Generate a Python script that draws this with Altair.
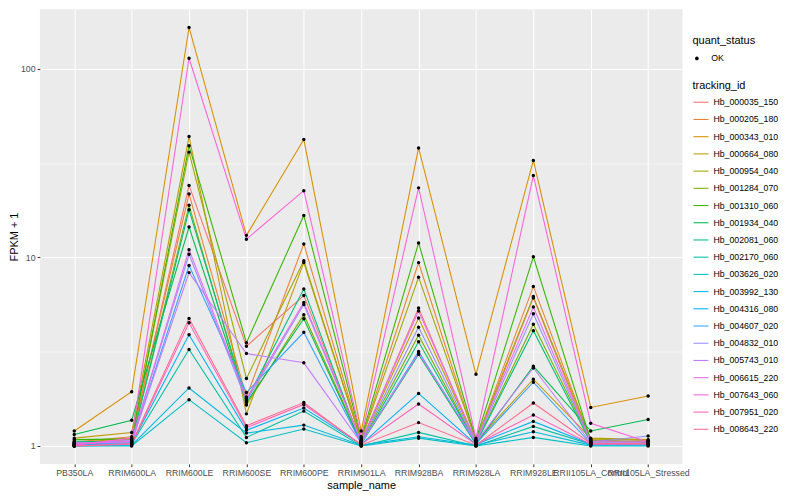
import altair as alt
import pandas as pd

samples = ["PB350LA", "RRIM600LA", "RRIM600LE", "RRIM600SE", "RRIM600PE", "RRIM901LA",
           "RRIM928BA", "RRIM928LA", "RRIM928LE", "RRII105LA_Control", "RRII105LA_Stressed"]

tracking_ids = ["Hb_000035_150", "Hb_000205_180", "Hb_000343_010", "Hb_000664_080", "Hb_000954_040",
                "Hb_001284_070", "Hb_001310_060", "Hb_001934_040", "Hb_002081_060", "Hb_002170_060",
                "Hb_003626_020", "Hb_003992_130", "Hb_004316_080", "Hb_004607_020", "Hb_004832_010",
                "Hb_005743_010", "Hb_006615_220", "Hb_007643_060", "Hb_007951_020", "Hb_008643_220"]

colors = ["#F8766D", "#EA8331", "#D89000", "#C09B00", "#A3A500", "#7CAE00", "#39B600", "#00BB4E",
          "#00BF7D", "#00C1A3", "#00BFC4", "#00BAE0", "#00B0F6", "#35A2FF", "#9590FF", "#C77CFF",
          "#E76BF3", "#FA62DB", "#FF62BC", "#FF6C91"]

# FPKM + 1 per sample (order of `samples`)
Hb_000035_150 = [1.03, 1.08, 24.1, 3.38, 6.28, 1.05, 5.39, 1.04, 6.10, 1.05, 1.05]
Hb_000205_180 = [1.05, 1.12, 21.7, 1.82, 11.8, 1.08, 9.39, 1.06, 7.02, 1.08, 1.04]
Hb_000343_010 = [1.20, 1.94, 166.0, 13.1, 42.2, 1.20, 38.1, 2.40, 32.7, 1.60, 1.84]
Hb_000664_080 = [1.10, 1.18, 43.8, 1.48, 9.40, 1.06, 4.77, 1.05, 2.26, 1.10, 1.08]
Hb_000954_040 = [1.04, 1.10, 36.2, 2.28, 9.60, 1.07, 7.85, 1.07, 6.20, 1.09, 1.07]
Hb_001284_070 = [1.02, 1.06, 18.9, 1.65, 4.97, 1.04, 3.87, 1.03, 4.42, 1.06, 1.06]
Hb_001310_060 = [1.08, 1.09, 39.1, 3.53, 16.7, 1.10, 11.94, 1.08, 10.08, 1.07, 1.05]
Hb_001934_040 = [1.15, 1.37, 14.5, 1.70, 4.73, 1.03, 3.06, 1.02, 2.65, 1.20, 1.38]
Hb_002081_060 = [1.06, 1.05, 17.9, 1.75, 6.80, 1.02, 3.57, 1.03, 4.09, 1.04, 1.03]
Hb_002170_060 = [1.01, 1.02, 3.25, 1.11, 1.53, 1.00, 1.18, 1.00, 1.27, 1.02, 1.02]
Hb_003626_020 = [1.00, 1.00, 1.76, 1.04, 1.23, 1.00, 1.10, 1.00, 1.11, 1.00, 1.00]
Hb_003992_130 = [1.00, 1.01, 2.03, 1.17, 1.29, 1.01, 1.12, 1.01, 1.19, 1.01, 1.01]
Hb_004316_080 = [1.01, 1.03, 3.89, 1.21, 1.59, 1.02, 1.90, 1.02, 1.35, 1.02, 1.02]
Hb_004607_020 = [1.02, 1.04, 9.06, 1.92, 4.01, 1.03, 3.17, 1.03, 2.18, 1.03, 1.03]
Hb_004832_010 = [1.03, 1.07, 10.4, 1.73, 5.63, 1.05, 4.26, 1.04, 5.03, 1.05, 1.13]
Hb_005743_010 = [1.04, 1.05, 8.31, 3.09, 2.76, 1.04, 3.10, 1.05, 2.59, 1.04, 1.04]
Hb_006615_220 = [1.02, 1.06, 11.0, 1.78, 5.77, 1.06, 5.20, 1.06, 5.46, 1.06, 1.06]
Hb_007643_060 = [1.01, 1.10, 114.0, 12.5, 22.6, 1.12, 23.4, 1.10, 27.2, 1.32, 1.05]
Hb_007951_020 = [1.00, 1.02, 4.50, 1.25, 1.66, 1.02, 1.67, 1.02, 1.46, 1.02, 1.02]
Hb_008643_220 = [1.00, 1.03, 4.75, 1.28, 1.70, 1.01, 1.33, 1.01, 1.69, 1.03, 1.03]

series = [Hb_000035_150, Hb_000205_180, Hb_000343_010, Hb_000664_080, Hb_000954_040,
          Hb_001284_070, Hb_001310_060, Hb_001934_040, Hb_002081_060, Hb_002170_060,
          Hb_003626_020, Hb_003992_130, Hb_004316_080, Hb_004607_020, Hb_004832_010,
          Hb_005743_010, Hb_006615_220, Hb_007643_060, Hb_007951_020, Hb_008643_220]

y_major_breaks = [1, 10, 100]
y_minor_breaks = [3.1623, 31.623]

rows = []
for tid, vals in zip(tracking_ids, series):
    for i, (s, v) in enumerate(zip(samples, vals)):
        rows.append({"tracking_id": tid, "sample_name": s, "idx": i, "fpkm": v, "quant_status": "OK"})
df = pd.DataFrame(rows)

FONT = "Liberation Sans"
major_test = " || ".join(f"datum.value == {b}" for b in y_major_breaks)

x_enc = alt.X("sample_name:N", sort=samples, title="sample_name",
              scale=alt.Scale(type="point", padding=0.6),
              axis=alt.Axis(labelFontSize=8.8, labelColor="#4D4D4D", labelAngle=0,
                            labelOverlap=False, labelBound=False, labelFlush=False,
                            labelPadding=2, tickColor="#333333", tickSize=2.75, tickWidth=1,
                            domain=False, grid=True, gridColor="white", gridWidth=1.07,
                            titleFontSize=11, titleFontWeight="normal", titleColor="black",
                            titlePadding=2))
y_enc = alt.Y("fpkm:Q", title="FPKM + 1",
              scale=alt.Scale(type="log", domain=[0.803, 207.4], nice=False),
              axis=alt.Axis(values=sorted(y_major_breaks + y_minor_breaks),
                            labelExpr=f"({major_test}) ? format(datum.value, 'd') : ''",
                            labelFontSize=8.8, labelColor="#4D4D4D",
                            labelPadding=2, tickColor="#333333", tickSize=2.75, tickWidth=1,
                            tickOpacity={"condition": {"test": major_test, "value": 1}, "value": 0},
                            domain=False, grid=True, gridColor="white",
                            gridWidth={"condition": {"test": major_test, "value": 1.07}, "value": 0.53},
                            titleFontSize=11, titleFontWeight="normal", titleColor="black",
                            titlePadding=1))

lines = alt.Chart(df).mark_line(strokeWidth=1.07).encode(
    x=x_enc, y=y_enc,
    color=alt.Color("tracking_id:N",
                    scale=alt.Scale(domain=tracking_ids, range=colors),
                    legend=alt.Legend(orient="none", legendX=656, legendY=71,
                                      title="tracking_id", titleFontSize=11,
                                      titleFontWeight="normal", titleColor="black",
                                      titlePadding=3,
                                      labelFontSize=8.8, labelColor="black",
                                      symbolType="stroke", symbolStrokeWidth=1.07,
                                      symbolSize=225, rowPadding=3.3, labelOffset=4)),
    order=alt.Order("idx:Q"),
)

points = alt.Chart(df).mark_point(filled=True, size=12, opacity=1, color="black").encode(
    x=alt.X("sample_name:N", sort=samples), y="fpkm:Q",
    shape=alt.Shape("quant_status:N", scale=alt.Scale(domain=["OK"], range=["circle"]),
                    legend=alt.Legend(orient="none", legendX=656, legendY=26,
                                      title="quant_status", titleFontSize=11,
                                      titleFontWeight="normal", titleColor="black",
                                      titlePadding=8,
                                      labelFontSize=8.8, labelColor="black",
                                      symbolFillColor="black", symbolStrokeColor="black",
                                      symbolSize=14, labelOffset=10)),
)

chart = alt.layer(lines, points).properties(
    width=646, height=457,
    autosize=alt.AutoSizeParams(type="none"),
    padding={"left": 32, "top": 0, "right": 110, "bottom": 30},
).configure(font=FONT, view=alt.ViewConfig(fill="#EBEBEB", stroke=None))

chart.save("out.html", embed_options={"renderer": "svg", "actions": False})
